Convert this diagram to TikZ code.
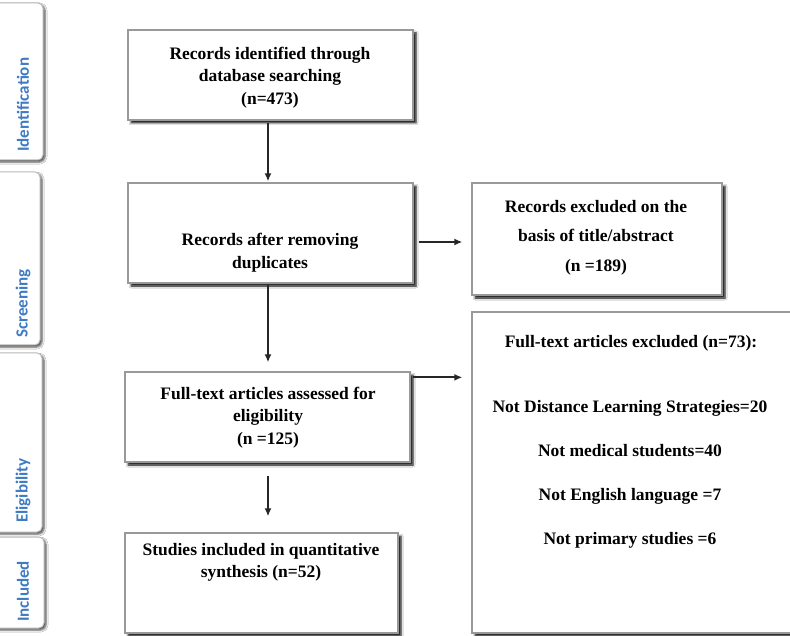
\documentclass[tikz,border=0pt]{standalone}
\usepackage{fontspec}
\setmainfont{Liberation Serif}
\newfontfamily\tabfont{Carlito}
\usetikzlibrary{arrows.meta,shadows.blur,calc}
\definecolor{tabblue}{HTML}{3F7BC2}
\begin{document}
\begin{tikzpicture}[x=1pt,y=-1pt,
  box/.style={draw=black!40, line width=1.3pt, fill=white, inner sep=0pt,
    blur shadow={shadow xshift=3pt, shadow yshift=-3pt, shadow blur radius=2pt, shadow blur steps=5, shadow opacity=95}},
  tab/.style={draw=black!28, line width=1pt, fill=white, rounded corners=5pt, inner sep=0pt,
    blur shadow={shadow xshift=2pt, shadow yshift=-2pt, shadow blur radius=2pt, shadow blur steps=5, shadow opacity=70}},
  tabtxt/.style={font=\tabfont\bfseries\fontsize{17}{20}\selectfont, text=tabblue, rotate=90, anchor=west, inner sep=0pt},
  txt/.style={font=\bfseries\fontsize{17.5}{22.5}\selectfont, align=center, inner sep=0pt},
  arr/.style={-{Latex[length=8pt,width=7pt]}, line width=1.8pt, draw=black!85}]
\useasboundingbox (0,0) rectangle (790,636);
\clip (0,0) rectangle (790,636);
\fill[white] (0,0) rectangle (790,636);

% stage tabs
\node[tab, minimum width=53pt, minimum height=157pt] (tI) at (16.5,81.5) {};
\node[tab, minimum width=50pt, minimum height=173pt] (tS) at (15,258.5) {};
\node[tab, minimum width=52pt, minimum height=179pt] (tE) at (16,442.5) {};
\node[tab, minimum width=54pt, minimum height=91pt] (tC) at (17,582.5) {};
\node[tabtxt] (lI) at (23,152) {Identification};
\node[tabtxt] (lS) at (23,338) {Screening};
\node[tabtxt] (lE) at (23,523) {Eligibility};
\node[tabtxt] (lC) at (23,622) {Included};

% boxes
\node[box, minimum width=285pt, minimum height=90pt] (b1) at (270.5,75) {};
\node[box, minimum width=285pt, minimum height=100pt] (b2) at (270.5,233) {};
\node[box, minimum width=285pt, minimum height=90pt] (b3) at (267.5,417) {};
\node[box, minimum width=273pt, minimum height=100pt] (b4) at (261.5,583) {};
\node[box, minimum width=250pt, minimum height=112pt] (b5) at (597,239) {};
\node[box, minimum width=328pt, minimum height=321pt] (b6) at (636,472.5) {};

% texts
\node[txt] (t1) at (270,77.5) {Records identified through\\database searching\\(n=473)};
\node[txt] (t2) at (270,252.5) {Records after removing\\duplicates};
\node[txt] (t3) at (268,417.5) {Full-text articles assessed for\\eligibility\\(n =125)};
\node[txt] (t4) at (261,562.5) {Studies included in quantitative\\synthesis (n=52)};
\node[txt, font=\bfseries\fontsize{17.5}{29.5}\selectfont] (t5) at (596,237.5) {Records excluded on the\\basis of title/abstract\\(n =189)};
\node[txt] (t6) at (631,343) {Full-text articles excluded (n=73):};
\node[txt, font=\bfseries\fontsize{17.5}{44}\selectfont] (t7) at (630,474.5) {Not Distance Learning Strategies=20\\Not medical students=40\\Not English language =7\\Not primary studies =6};

% connectors
\draw[arr, shorten <=2pt, shorten >=1pt] ([xshift=-2.5pt]b1.south) -- ([xshift=-2.5pt]b2.north);
\draw[arr, shorten <=1pt, shorten >=9pt] ([xshift=-2.5pt]b2.south) -- ([xshift=0.5pt]b3.north);
\draw[arr, shorten <=13pt, shorten >=16pt] ([xshift=0.5pt]b3.south) -- ([xshift=6.5pt]b4.north);
\draw[arr, shorten <=5pt, shorten >=9pt] ([yshift=-9pt]b2.east) -- ([yshift=-9pt]b2.east -| b5.west);
\draw[arr, shorten <=2pt, shorten >=9pt] ([yshift=-6pt]b3.north east) -- ([yshift=-6pt]b3.north east -| b6.west);
\end{tikzpicture}
\end{document}
